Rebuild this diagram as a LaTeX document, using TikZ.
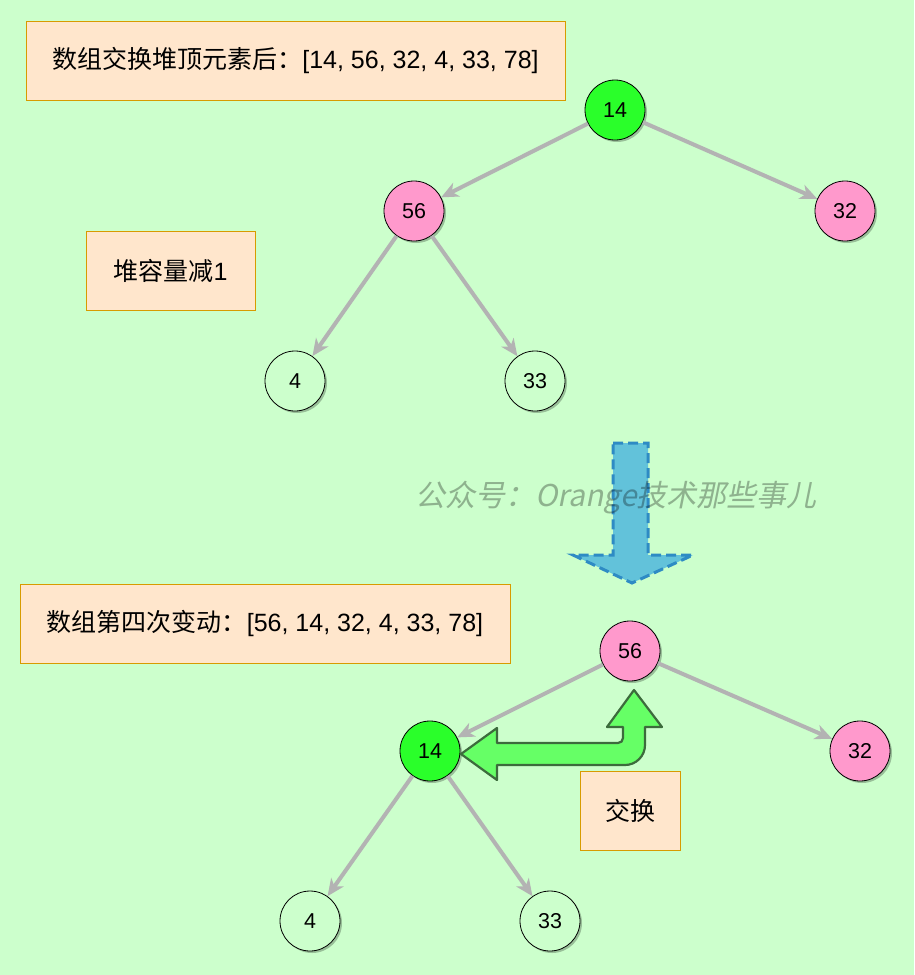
\documentclass[tikz,border=0pt]{standalone}
\usepackage{fontspec}
\setmainfont{Liberation Sans}
\newfontfamily\cjk{Noto Sans CJK SC}
\newfontfamily\cjkmark[FakeSlant=0.2]{Noto Sans CJK SC}
\usetikzlibrary{arrows.meta,shadows}
\definecolor{bgcolor}{HTML}{CCFFCC}
\definecolor{topgreen}{HTML}{2AFF2A}
\definecolor{movedpink}{HTML}{FF99CC}
\definecolor{edgegray}{HTML}{B3B3B3}
\definecolor{boxfill}{HTML}{FFE6CC}
\definecolor{boxline}{HTML}{D79B00}
\definecolor{downfill}{HTML}{62C2DA}
\definecolor{downline}{HTML}{2E8BC4}
\definecolor{swapfill}{HTML}{66FF66}
\definecolor{swapline}{HTML}{3C6B3C}
\begin{document}
\begin{tikzpicture}[x=1pt,y=-1pt,
    heapnode/.style={circle,draw=black,line width=0.8pt,minimum size=60pt,
      inner sep=0pt,font=\fontsize{21.5}{24}\selectfont,
      drop shadow={shadow xshift=2pt,shadow yshift=-2pt,fill=black,opacity=0.25}},
    topnode/.style={heapnode,fill=topgreen},
    movednode/.style={heapnode,fill=movedpink},
    leafnode/.style={heapnode,fill=bgcolor},
    infobox/.style={draw=boxline,fill=boxfill,line width=0.8pt,minimum height=79pt,
      inner sep=0pt,font=\fontsize{25}{30}\selectfont},
    edge/.style={draw=edgegray,line width=4pt,-{Stealth[length=17pt,width=15pt,inset=5pt]}}]
  \fill[bgcolor] (0,0) rectangle (914,975);
  \useasboundingbox (0,0) rectangle (914,975);

  % info boxes
  \node[infobox,minimum width=539pt] (after) at (295.5,60.5)
    {{\cjk 数组交换堆顶元素后：}[14, 56, 32, 4, 33, 78]};
  \node[infobox,minimum width=169pt] (shrink) at (170.5,270.5) {{\cjk 堆容量减}1};
  \node[infobox,minimum width=490pt] (fourth) at (265,623.5)
    {{\cjk 数组第四次变动：}[56, 14, 32, 4, 33, 78]};
  \node[infobox,minimum width=100pt] (swap) at (630,810.5) {\cjk 交换};

  % heap before sift down
  \draw
    (615,110) node[topnode] (a14) {14}
    (414,211) node[movednode] (a56) {56}
    (845,211) node[movednode] (a32) {32}
    (295,381) node[leafnode] (a4) {4}
    (535,381) node[leafnode] (a33) {33};
  \draw[edge] (a14) to (a56);
  \draw[edge] (a14) to (a32);
  \draw[edge] (a56) to (a4);
  \draw[edge] (a56) to (a33);

  % down arrow
  \draw[fill=downfill,draw=downline,line width=3pt,dash pattern=on 10pt off 5pt]
    (613,443) -- (648,443) -- (648,555) -- (693,555) -- (632,583)
    -- (573,555) -- (613,555) -- cycle;

  \node[font=\cjkmark\fontsize{30}{34}\selectfont,text=black,text opacity=0.3]
    (mark) at (616,498) {公众号：Orange技术那些事儿};

  % heap after sift down
  \draw
    (630,651) node[movednode] (b56) {56}
    (430,751) node[topnode] (b14) {14}
    (860,751) node[movednode] (b32) {32}
    (310,921) node[leafnode] (b4) {4}
    (550,921) node[leafnode] (b33) {33};
  \draw[edge] (b56) to (b14);
  \draw[edge] (b56) to (b32);
  \draw[edge] (b14) to (b4);
  \draw[edge] (b14) to (b33);

  % swap arrow
  \draw[fill=swapfill,draw=swapline,line width=2.2pt,line join=round]
    (461,754) -- (497,728) -- (497,743)
    [rounded corners=5pt] -- (623,743)
    [sharp corners] -- (623,727) -- (607,727) -- (634,690) -- (662,727) -- (645,727)
    [rounded corners=20pt] -- (645,765)
    [sharp corners] -- (497,765) -- (497,780) -- cycle;
\end{tikzpicture}
\end{document}
